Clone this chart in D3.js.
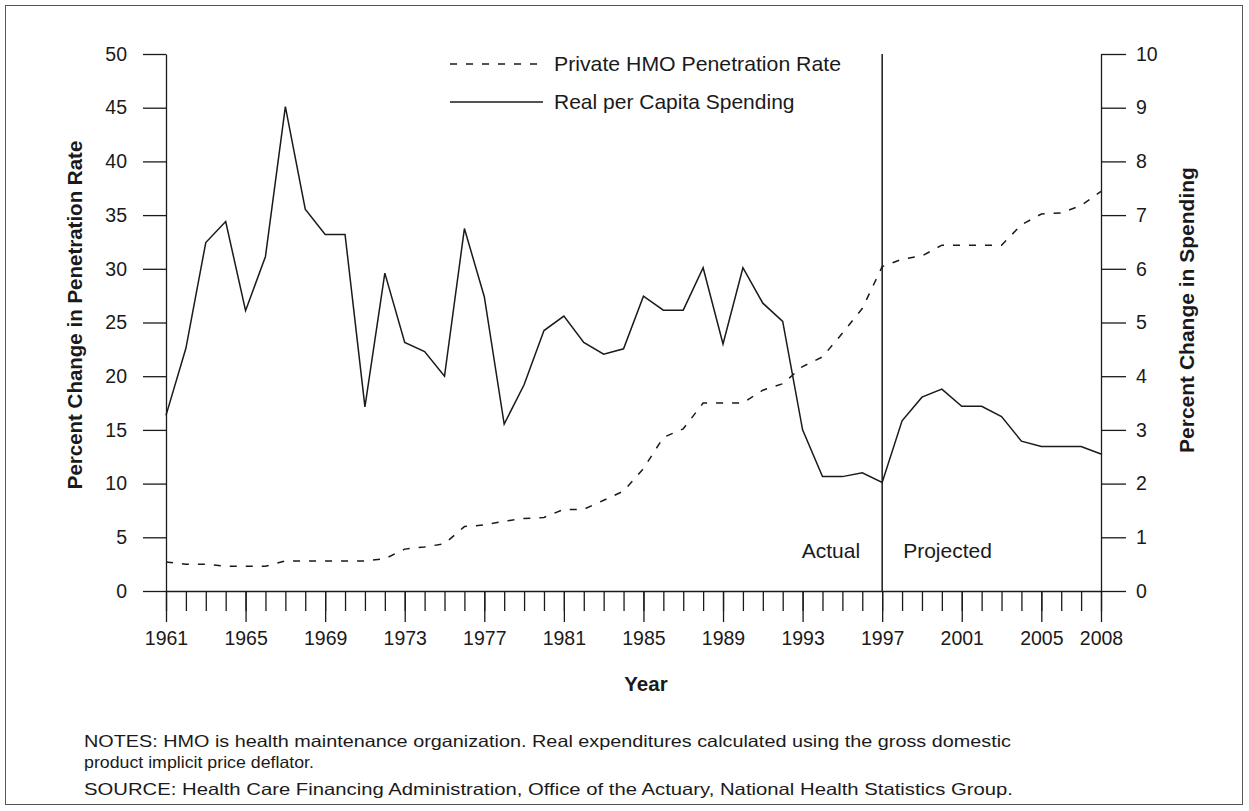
<!DOCTYPE html>
<html>
<head>
<meta charset="utf-8">
<script src="https://cdn.jsdelivr.net/npm/d3@7"></script>
<style>
  html, body { margin: 0; padding: 0; background: #fff; }
  svg { display: block; }
  text { font-family: "Liberation Sans", Arial, Helvetica, sans-serif; fill: #1a1a1a; }
</style>
</head>
<body>
<svg id="chart" width="1249" height="811"></svg>
<script>
const years = [1961,1962,1963,1964,1965,1966,1967,1968,1969,1970,
               1971,1972,1973,1974,1975,1976,1977,1978,1979,1980,
               1981,1982,1983,1984,1985,1986,1987,1988,1989,1990,
               1991,1992,1993,1994,1995,1996,1997,1998,1999,2000,
               2001,2002,2003,2004,2005,2006,2007,2008];
const hmoPenetration = [2.7,2.5,2.5,2.3,2.3,2.3,2.8,2.8,2.8,2.8,
                        2.8,3.0,3.9,4.1,4.4,6.0,6.15,6.5,6.75,6.85,
                        7.6,7.6,8.45,9.3,11.4,14.3,15.1,17.5,17.5,17.5,
                        18.7,19.3,20.9,21.8,24.0,26.3,30.2,30.9,31.2,32.2,
                        32.2,32.2,32.2,34.1,35.1,35.2,35.9,37.2];
const spending = [3.27,4.52,6.49,6.88,5.22,6.23,9.02,7.11,6.64,6.64,
                  3.43,5.92,4.63,4.46,4.00,6.75,5.48,3.11,3.84,4.85,
                  5.12,4.63,4.41,4.51,5.49,5.23,5.23,6.02,4.60,6.02,
                  5.36,5.02,3.00,2.13,2.13,2.20,2.02,3.17,3.61,3.76,
                  3.44,3.44,3.25,2.79,2.69,2.69,2.69,2.55];
const labelYears = [1961,1965,1969,1973,1977,1981,1985,1989,1993,1997,2001,2005,2008];
const leftTicks = [0,5,10,15,20,25,30,35,40,45,50];
const rightTicks = [0,1,2,3,4,5,6,7,8,9,10];
const splitYear = 1997;
const legendLabels = ["Private HMO Penetration Rate", "Real per Capita Spending"];

const svg = d3.select("#chart");
const ink = "#1a1a1a";

// frame
svg.append("rect").attr("x", 5.5).attr("y", 5.5).attr("width", 1237).attr("height", 799)
  .attr("fill", "none").attr("stroke", "#555").attr("stroke-width", 1);

const x = d3.scaleLinear().domain([1961, 2008]).range([166, 1101]);
const yL = d3.scaleLinear().domain([0, 50]).range([591, 54]);
const yR = d3.scaleLinear().domain([0, 10]).range([591, 54]);

function styleAxis(g) {
  g.selectAll("path, line").attr("stroke", ink).attr("stroke-width", 1.3);
  g.selectAll("text").attr("fill", ink).style("font-size", "19.5px")
    .style("font-family", '"Liberation Sans", Arial, sans-serif');
}

// left axis
svg.append("g").attr("transform", "translate(166,0)")
  .call(d3.axisLeft(yL).tickValues(leftTicks).tickSize(23).tickPadding(16).tickSizeOuter(0))
  .call(styleAxis);

// right axis
svg.append("g").attr("transform", "translate(1101,0)")
  .call(d3.axisRight(yR).tickValues(rightTicks).tickSize(25).tickPadding(10).tickSizeOuter(0))
  .call(styleAxis);

// x axis minor ticks
svg.append("g").attr("transform", "translate(0,591)")
  .call(d3.axisBottom(x).tickValues(years).tickSize(20).tickFormat("").tickSizeOuter(0))
  .call(styleAxis);
// x axis major ticks with labels
svg.append("g").attr("transform", "translate(0,591)")
  .call(d3.axisBottom(x).tickValues(labelYears).tickSize(31).tickPadding(9).tickFormat(d3.format("d")).tickSizeOuter(0))
  .call(styleAxis)
  .call(g => g.select(".domain").remove());

// split line
svg.append("line").attr("x1", x(splitYear)).attr("x2", x(splitYear))
  .attr("y1", yL(50)).attr("y2", yL(0)).attr("stroke", ink).attr("stroke-width", 1.5);

svg.append("text").attr("x", x(splitYear) - 22).attr("y", 558).attr("text-anchor", "end")
  .style("font-size", "21px").text("Actual");
svg.append("text").attr("x", x(splitYear) + 21).attr("y", 558).attr("text-anchor", "start")
  .style("font-size", "21px").text("Projected");

// lines
const hmoLine = d3.line().x((d, i) => x(years[i])).y(d => yL(d));
const spLine = d3.line().x((d, i) => x(years[i])).y(d => yR(d));

svg.append("path").datum(hmoPenetration).attr("d", hmoLine)
  .attr("fill", "none").attr("stroke", ink).attr("stroke-width", 1.5)
  .attr("stroke-dasharray", "7,9");
svg.append("path").datum(spending).attr("d", spLine)
  .attr("fill", "none").attr("stroke", ink).attr("stroke-width", 1.5);

// legend
const lg = svg.append("g");
lg.append("line").attr("x1", 450).attr("x2", 545).attr("y1", 64).attr("y2", 64)
  .attr("stroke", ink).attr("stroke-width", 1.3).attr("stroke-dasharray", "7,9");
lg.append("text").attr("x", 554).attr("y", 64).attr("dy", "0.35em").style("font-size", "21px")
  .attr("textLength", 287).attr("lengthAdjust", "spacingAndGlyphs").text(legendLabels[0]);
lg.append("line").attr("x1", 450).attr("x2", 543).attr("y1", 102).attr("y2", 102)
  .attr("stroke", ink).attr("stroke-width", 1.3);
lg.append("text").attr("x", 554).attr("y", 102).attr("dy", "0.35em").style("font-size", "21px")
  .text(legendLabels[1]);

// axis titles
svg.append("text").attr("transform", "translate(82,315) rotate(-90)").attr("text-anchor", "middle")
  .style("font-size", "20.5px").style("font-weight", "bold").text("Percent Change in Penetration Rate");
svg.append("text").attr("transform", "translate(1194,310) rotate(-90)").attr("text-anchor", "middle")
  .style("font-size", "21px").style("font-weight", "bold").text("Percent Change in Spending");
svg.append("text").attr("x", 646).attr("y", 691).attr("text-anchor", "middle")
  .style("font-size", "20.5px").style("font-weight", "bold").text("Year");

// notes
svg.append("text").attr("x", 84).attr("y", 747).style("font-size", "16.5px")
  .attr("textLength", 927).attr("lengthAdjust", "spacingAndGlyphs")
  .text("NOTES: HMO is health maintenance organization. Real expenditures calculated using the gross domestic");
svg.append("text").attr("x", 84).attr("y", 768).style("font-size", "16.5px")
  .attr("textLength", 230).attr("lengthAdjust", "spacingAndGlyphs")
  .text("product implicit price deflator.");
svg.append("text").attr("x", 84).attr("y", 795).style("font-size", "16.5px")
  .attr("textLength", 929).attr("lengthAdjust", "spacingAndGlyphs")
  .text("SOURCE: Health Care Financing Administration, Office of the Actuary, National Health Statistics Group.");
</script>
</body>
</html>
